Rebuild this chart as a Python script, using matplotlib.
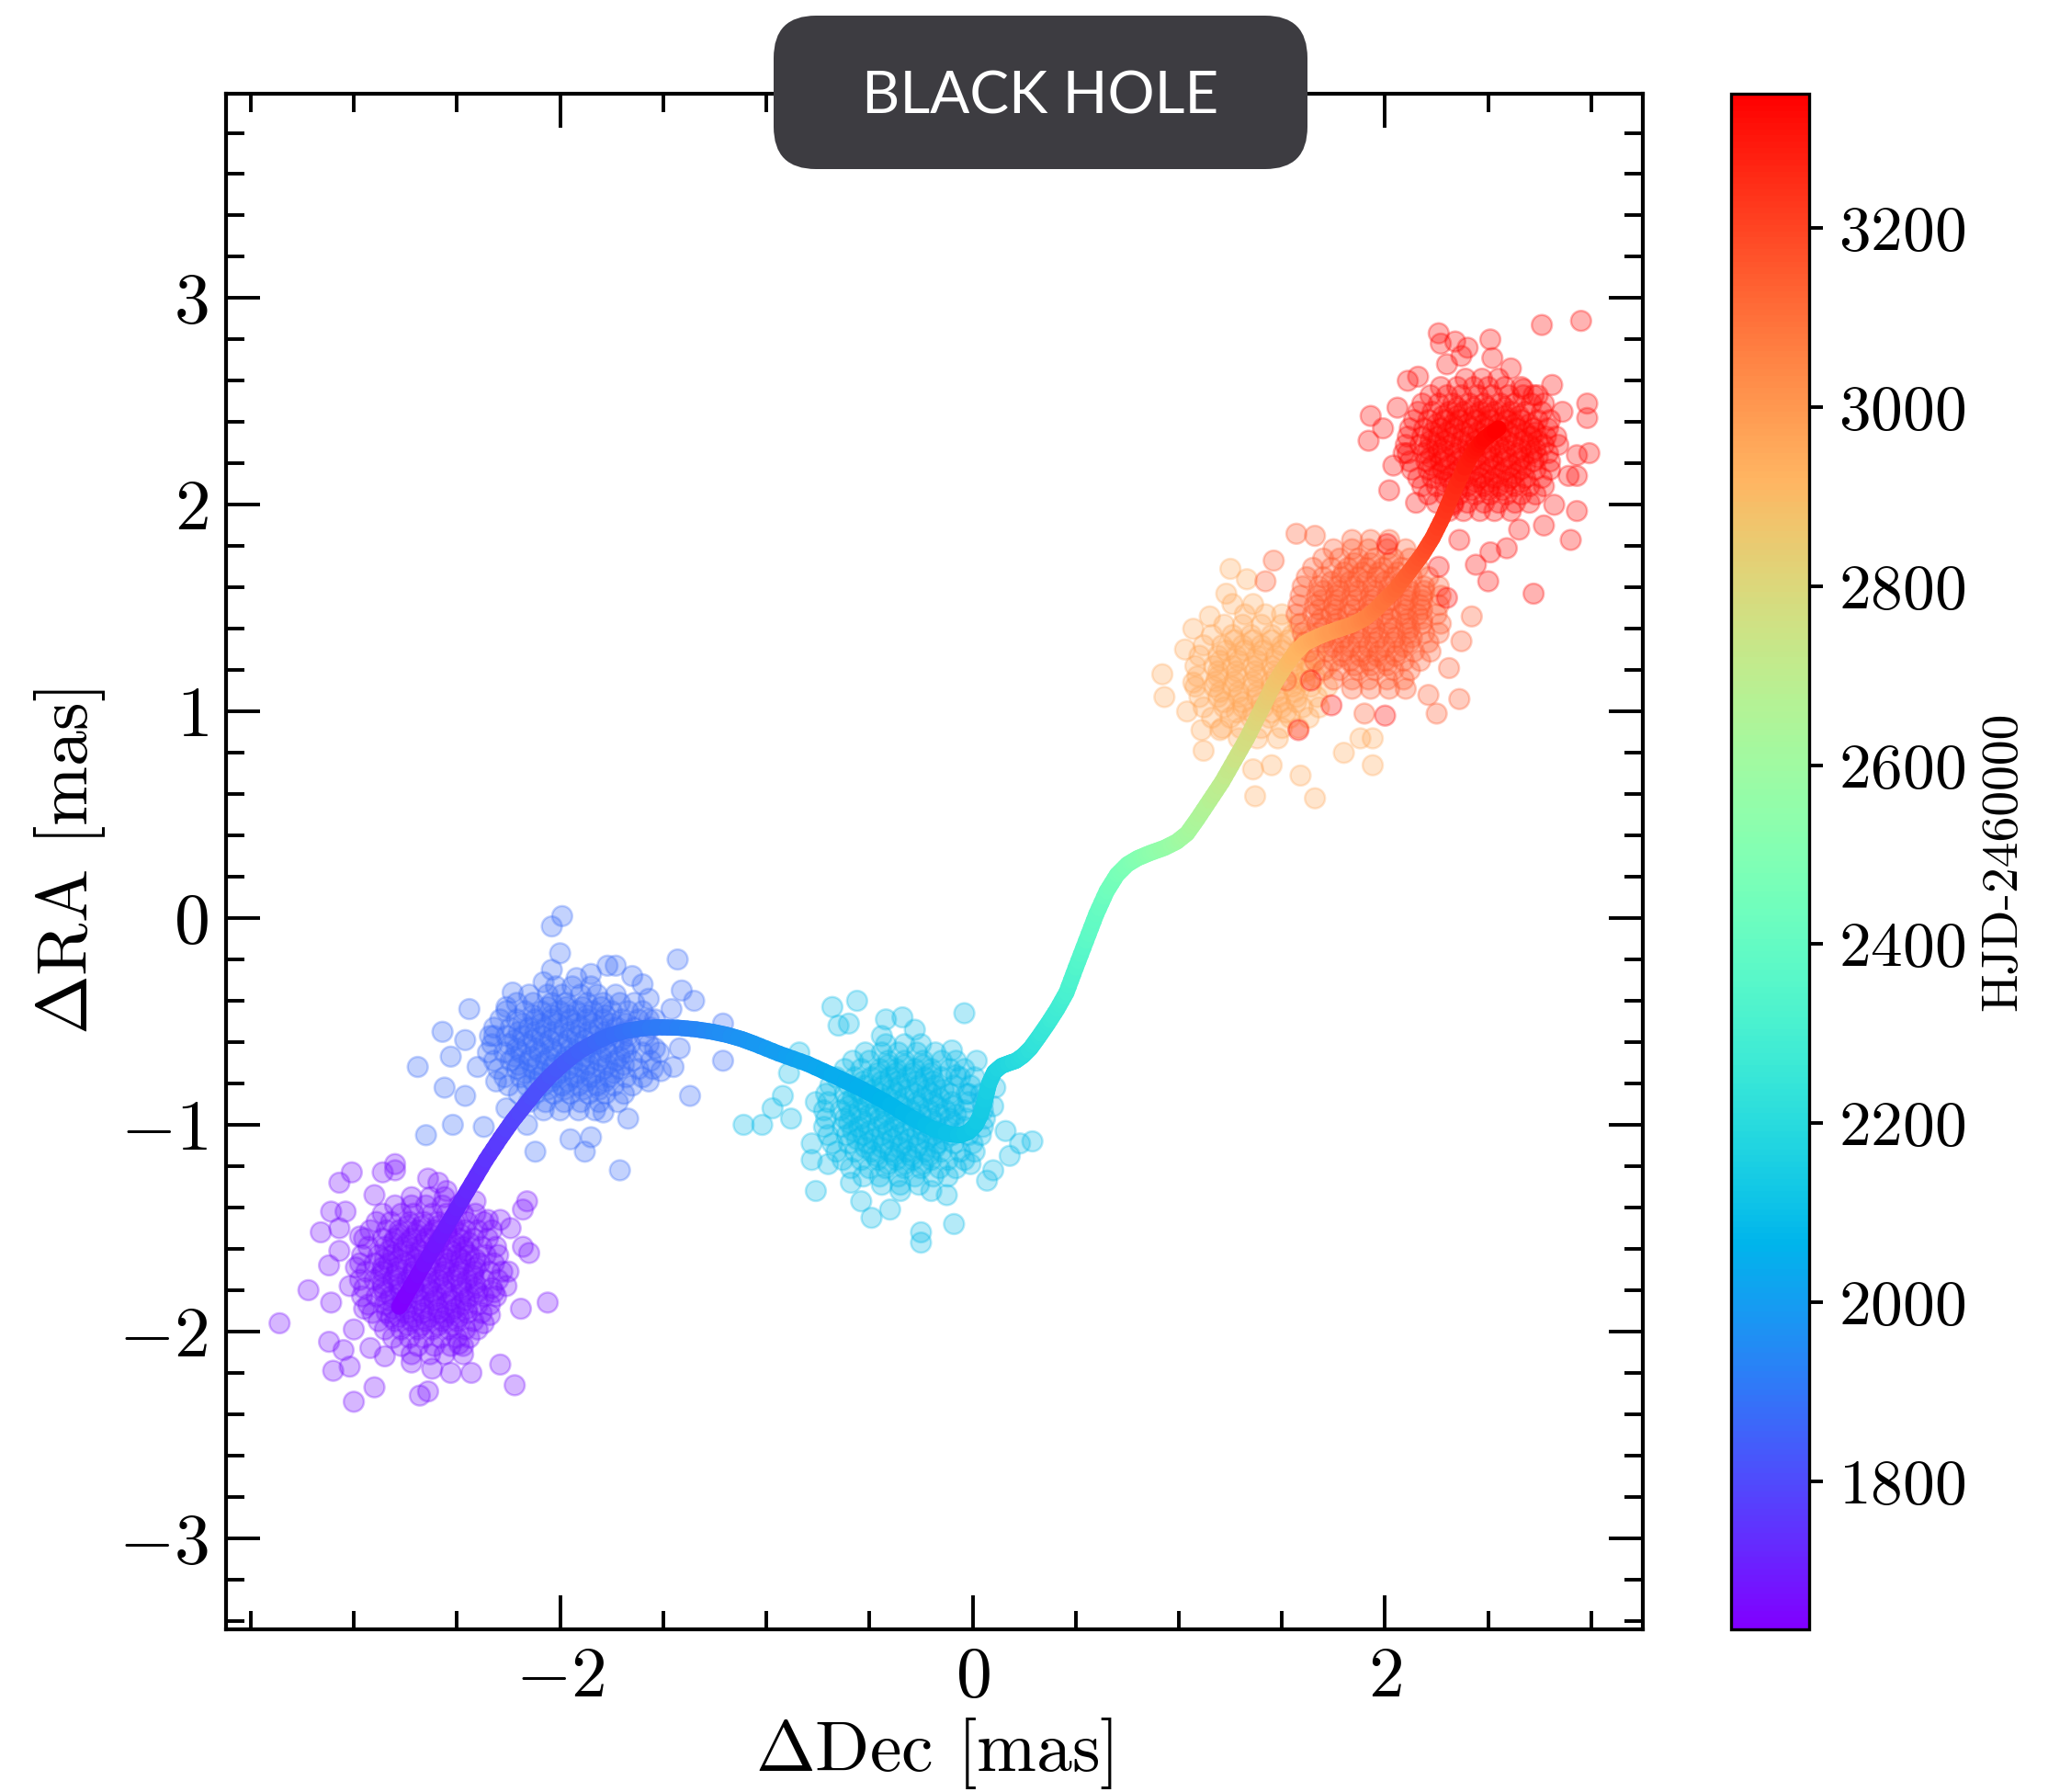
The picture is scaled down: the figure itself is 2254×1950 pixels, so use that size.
import numpy as np
import matplotlib
matplotlib.use("Agg")
import matplotlib.pyplot as plt
from matplotlib.collections import LineCollection
from matplotlib.patches import FancyBboxPatch
from matplotlib.ticker import MultipleLocator, FuncFormatter
import matplotlib.colors as mcolors
import matplotlib.cm as cm

plt.rcParams.update({
    "font.family": "serif",
    "font.serif": ["cmr10"],
    "mathtext.fontset": "cm",
    "axes.formatter.use_mathtext": True,
})

# ---------------------------------------------------------------------------
# Astrometric visits: epoch (HJD-2460000) and measured offsets [mas]
# outer = sparse points (dec, ra); core = rows of (ra, [dec, ...]) in the dense part
# ---------------------------------------------------------------------------
epoch_times = [1665, 1870, 2085, 2950, 3150, 3330]

# visit 1
v1_outer = [(-3.01, -1.23), (-3.07, -1.28), (-2.86, -1.23), (-2.80, -1.19), (-2.80, -1.22), (-2.64, -1.26),
            (-2.90, -1.34), (-3.11, -1.42), (-3.04, -1.42), (-3.16, -1.52), (-3.07, -1.50), (-2.97, -1.54),
            (-3.07, -1.61), (-3.12, -1.68), (-3.22, -1.80), (-3.11, -1.86), (-3.36, -1.96), (-3.12, -2.05),
            (-3.05, -2.09), (-3.10, -2.19), (-3.02, -2.17), (-2.90, -2.27), (-3.00, -2.34), (-2.68, -2.31),
            (-2.64, -2.29), (-2.72, -2.15), (-2.62, -2.18), (-2.53, -2.20), (-2.43, -2.20), (-2.47, -2.11),
            (-2.49, -2.06), (-2.29, -2.16), (-2.22, -2.26), (-2.19, -1.89), (-2.06, -1.86), (-2.25, -1.71),
            (-2.15, -1.62), (-2.18, -1.59), (-2.24, -1.50), (-2.18, -1.41), (-2.16, -1.37), (-2.35, -1.46),
            (-2.29, -1.46), (-2.41, -1.37), (-2.55, -1.32), (-2.59, -1.28), (-2.85, -2.12), (-2.92, -2.08),
            (-3.00, -1.99), (-2.37, -1.96), (-2.34, -1.92), (-2.32, -1.81), (-2.26, -1.78), (-2.99, -1.69),
            (-2.95, -1.89), (-3.02, -1.78), (-2.82, -1.93)]
v1_core = [(-1.35, [-2.72, -2.63, -2.56]),
           (-1.39, [-2.80, -2.72, -2.65, -2.57, -2.49]),
           (-1.43, [-2.86, -2.77, -2.71, -2.62, -2.55, -2.47, -2.41]),
           (-1.47, [-2.89, -2.82, -2.73, -2.66, -2.59, -2.51, -2.45, -2.37]),
           (-1.51, [-2.92, -2.84, -2.78, -2.69, -2.61, -2.55, -2.46, -2.40, -2.33]),
           (-1.55, [-2.95, -2.86, -2.80, -2.72, -2.65, -2.58, -2.49, -2.42, -2.35]),
           (-1.59, [-2.93, -2.85, -2.76, -2.70, -2.61, -2.53, -2.47, -2.38, -2.31]),
           (-1.63, [-2.96, -2.88, -2.81, -2.73, -2.66, -2.57, -2.50, -2.44, -2.36, -2.30]),
           (-1.67, [-2.97, -2.90, -2.83, -2.75, -2.68, -2.60, -2.54, -2.46, -2.39, -2.32]),
           (-1.71, [-2.94, -2.86, -2.79, -2.71, -2.63, -2.56, -2.49, -2.42, -2.34, -2.28]),
           (-1.75, [-2.97, -2.90, -2.81, -2.74, -2.67, -2.59, -2.52, -2.45, -2.37, -2.30]),
           (-1.79, [-2.95, -2.86, -2.78, -2.71, -2.64, -2.57, -2.48, -2.41, -2.33]),
           (-1.83, [-2.96, -2.89, -2.82, -2.74, -2.66, -2.60, -2.52, -2.44, -2.37, -2.31]),
           (-1.87, [-2.93, -2.85, -2.77, -2.70, -2.63, -2.55, -2.48, -2.40, -2.34]),
           (-1.91, [-2.91, -2.84, -2.75, -2.67, -2.59, -2.53, -2.45, -2.38]),
           (-1.95, [-2.88, -2.80, -2.72, -2.65, -2.57, -2.50, -2.42]),
           (-1.99, [-2.85, -2.77, -2.69, -2.62, -2.54, -2.46, -2.40]),
           (-2.03, [-2.81, -2.73, -2.66, -2.58, -2.50, -2.44]),
           (-2.07, [-2.77, -2.69, -2.61, -2.53, -2.47]),
           (-2.11, [-2.72, -2.63, -2.56]),
           (-1.49, [-2.74, -2.67, -2.59, -2.52]),
           (-1.53, [-2.78, -2.70, -2.63, -2.55, -2.48]),
           (-1.57, [-2.81, -2.74, -2.66, -2.59, -2.51, -2.44]),
           (-1.61, [-2.83, -2.76, -2.68, -2.61, -2.53, -2.46]),
           (-1.65, [-2.85, -2.78, -2.70, -2.63, -2.55, -2.48, -2.41]),
           (-1.69, [-2.86, -2.79, -2.71, -2.64, -2.56, -2.49, -2.41]),
           (-1.73, [-2.87, -2.80, -2.72, -2.65, -2.57, -2.50, -2.42]),
           (-1.77, [-2.86, -2.78, -2.71, -2.63, -2.56, -2.48, -2.41]),
           (-1.81, [-2.85, -2.77, -2.70, -2.62, -2.55, -2.47, -2.40]),
           (-1.85, [-2.83, -2.76, -2.68, -2.61, -2.53, -2.46]),
           (-1.89, [-2.81, -2.74, -2.66, -2.59, -2.51, -2.45]),
           (-1.93, [-2.78, -2.71, -2.63, -2.56, -2.49]),
           (-1.97, [-2.74, -2.67, -2.59, -2.52])]

# visit 2
v2_outer = [(-1.99, 0.01), (-2.04, -0.04), (-2.00, -0.17), (-2.04, -0.25), (-1.43, -0.20), (-1.41, -0.35),
            (-1.35, -0.40), (-1.46, -0.44), (-2.44, -0.44), (-2.57, -0.55), (-2.46, -0.59), (-2.53, -0.67),
            (-2.69, -0.72), (-2.56, -0.82), (-2.46, -0.86), (-2.52, -1.00), (-2.65, -1.05), (-2.37, -1.01),
            (-2.12, -1.13), (-1.88, -1.13), (-1.85, -1.06), (-1.67, -0.97), (-1.37, -0.86), (-1.21, -0.69),
            (-1.45, -0.72), (-1.42, -0.63), (-1.60, -0.32), (-1.65, -0.28), (-1.73, -0.23), (-1.77, -0.23),
            (-2.08, -0.31), (-2.23, -0.36), (-2.26, -0.43), (-2.32, -0.57), (-2.40, -0.72), (-2.31, -0.79),
            (-2.26, -0.92), (-2.16, -1.00), (-1.95, -1.07), (-1.79, -0.94), (-1.57, -0.79), (-1.51, -0.74),
            (-1.54, -0.63), (-1.54, -0.49), (-1.57, -0.39), (-1.92, -0.29), (-1.85, -0.27), (-1.21, -0.51),
            (-1.71, -1.22)]
v2_core = [(-0.33, [-2.02, -1.94, -1.85]),
           (-0.37, [-2.15, -2.06, -1.99, -1.90, -1.82, -1.73]),
           (-0.41, [-2.21, -2.13, -2.04, -1.97, -1.87, -1.79, -1.71, -1.64]),
           (-0.45, [-2.26, -2.17, -2.09, -2.00, -1.92, -1.84, -1.75, -1.67, -1.60]),
           (-0.49, [-2.29, -2.21, -2.12, -2.04, -1.95, -1.87, -1.79, -1.70, -1.62, -1.57]),
           (-0.53, [-2.32, -2.24, -2.15, -2.07, -1.98, -1.90, -1.81, -1.73, -1.64, -1.56]),
           (-0.57, [-2.34, -2.26, -2.18, -2.09, -2.01, -1.92, -1.84, -1.76, -1.67, -1.59]),
           (-0.61, [-2.33, -2.25, -2.16, -2.08, -1.99, -1.91, -1.82, -1.74, -1.66, -1.57]),
           (-0.65, [-2.35, -2.27, -2.19, -2.10, -2.02, -1.93, -1.85, -1.77, -1.68, -1.60, -1.52]),
           (-0.69, [-2.32, -2.24, -2.15, -2.07, -1.98, -1.90, -1.81, -1.73, -1.65, -1.56]),
           (-0.73, [-2.30, -2.21, -2.13, -2.04, -1.96, -1.88, -1.79, -1.71, -1.62, -1.55]),
           (-0.77, [-2.27, -2.19, -2.10, -2.02, -1.93, -1.85, -1.76, -1.68, -1.60]),
           (-0.81, [-2.25, -2.16, -2.08, -1.99, -1.91, -1.82, -1.74, -1.65]),
           (-0.85, [-2.20, -2.12, -2.03, -1.95, -1.86, -1.78, -1.69]),
           (-0.89, [-2.15, -2.07, -1.98, -1.90, -1.81, -1.72]),
           (-0.93, [-2.08, -2.00, -1.91, -1.83]),
           (-0.43, [-2.06, -1.97, -1.89, -1.80]),
           (-0.47, [-2.13, -2.04, -1.96, -1.87, -1.78]),
           (-0.51, [-2.18, -2.09, -2.01, -1.92, -1.84, -1.75, -1.68]),
           (-0.55, [-2.20, -2.12, -2.03, -1.95, -1.86, -1.78, -1.69]),
           (-0.59, [-2.22, -2.13, -2.05, -1.96, -1.88, -1.79, -1.70]),
           (-0.63, [-2.21, -2.12, -2.04, -1.95, -1.87, -1.78, -1.69]),
           (-0.67, [-2.22, -2.14, -2.05, -1.97, -1.88, -1.80, -1.71]),
           (-0.71, [-2.20, -2.11, -2.03, -1.94, -1.86, -1.77, -1.69]),
           (-0.75, [-2.17, -2.08, -2.00, -1.91, -1.83, -1.74]),
           (-0.79, [-2.13, -2.04, -1.96, -1.87, -1.78]),
           (-0.83, [-2.06, -1.98, -1.89, -1.81])]

# visit 3
v3_outer = [(-0.68, -0.43), (-0.56, -0.40), (-0.04, -0.46), (-0.42, -0.49), (-0.34, -0.48), (-0.28, -0.54),
            (-0.10, -0.64), (0.02, -0.69), (-0.84, -0.65), (-0.89, -0.75), (-0.92, -0.86), (-0.97, -0.92),
            (-1.11, -1.00), (-1.02, -1.00), (-0.88, -0.97), (-0.76, -0.89), (-0.78, -1.09), (-0.78, -1.17),
            (-0.76, -1.32), (-0.54, -1.37), (-0.49, -1.45), (-0.40, -1.41), (-0.25, -1.52), (-0.25, -1.57),
            (-0.09, -1.48), (0.07, -1.27), (0.10, -1.22), (0.18, -1.15), (0.16, -1.03), (0.23, -1.09),
            (0.29, -1.08), (0.10, -0.91), (0.11, -0.82), (-0.08, -0.76), (-0.02, -0.85), (-0.65, -0.52),
            (-0.60, -0.51), (-0.44, -0.57), (-0.20, -1.32), (-0.125, -1.34), (-0.59, -1.28), (-0.70, -1.19),
            (-0.35, -1.32), (-0.01, -1.19)]
v3_core = [(-0.61, [-0.42, -0.33, -0.25]),
           (-0.65, [-0.52, -0.44, -0.36, -0.27, -0.18]),
           (-0.69, [-0.58, -0.50, -0.41, -0.33, -0.24, -0.15, -0.08]),
           (-0.73, [-0.62, -0.54, -0.45, -0.37, -0.28, -0.20, -0.11, -0.04]),
           (-0.77, [-0.66, -0.57, -0.49, -0.40, -0.32, -0.23, -0.15, -0.06, 0.01]),
           (-0.81, [-0.69, -0.60, -0.52, -0.43, -0.35, -0.26, -0.18, -0.09, -0.01]),
           (-0.85, [-0.71, -0.62, -0.54, -0.45, -0.37, -0.28, -0.20, -0.11, -0.03, 0.04]),
           (-0.89, [-0.70, -0.61, -0.53, -0.44, -0.36, -0.27, -0.19, -0.10, -0.02, 0.05]),
           (-0.93, [-0.72, -0.64, -0.55, -0.47, -0.38, -0.30, -0.21, -0.13, -0.04, 0.05]),
           (-0.97, [-0.71, -0.62, -0.54, -0.45, -0.37, -0.28, -0.20, -0.11, -0.03, 0.06]),
           (-1.01, [-0.72, -0.63, -0.55, -0.46, -0.38, -0.29, -0.21, -0.12, -0.04, 0.05]),
           (-1.05, [-0.70, -0.61, -0.53, -0.44, -0.36, -0.27, -0.19, -0.10, -0.02, 0.04]),
           (-1.09, [-0.68, -0.60, -0.51, -0.43, -0.34, -0.26, -0.17, -0.09, 0.00]),
           (-1.13, [-0.66, -0.57, -0.49, -0.40, -0.32, -0.23, -0.15, -0.06, 0.01]),
           (-1.17, [-0.63, -0.54, -0.46, -0.37, -0.29, -0.20, -0.12, -0.04]),
           (-1.21, [-0.59, -0.50, -0.42, -0.33, -0.25, -0.16, -0.08]),
           (-1.25, [-0.53, -0.45, -0.36, -0.28, -0.19, -0.12]),
           (-1.29, [-0.44, -0.35, -0.26]),
           (-0.71, [-0.41, -0.33, -0.24]),
           (-0.75, [-0.46, -0.37, -0.29, -0.20]),
           (-0.79, [-0.53, -0.44, -0.36, -0.27, -0.19]),
           (-0.83, [-0.56, -0.48, -0.39, -0.31, -0.22, -0.14]),
           (-0.87, [-0.58, -0.50, -0.41, -0.33, -0.24, -0.16]),
           (-0.91, [-0.60, -0.51, -0.43, -0.34, -0.26, -0.17, -0.09]),
           (-0.95, [-0.59, -0.50, -0.42, -0.33, -0.25, -0.16, -0.08]),
           (-0.99, [-0.60, -0.52, -0.43, -0.35, -0.26, -0.18, -0.09]),
           (-1.03, [-0.58, -0.50, -0.41, -0.33, -0.24, -0.16]),
           (-1.07, [-0.56, -0.48, -0.39, -0.31, -0.22, -0.14]),
           (-1.11, [-0.52, -0.44, -0.35, -0.27, -0.18]),
           (-1.15, [-0.47, -0.38, -0.30, -0.21]),
           (-1.19, [-0.41, -0.33, -0.24])]

# visit 4
v4_outer = [(0.92, 1.18), (0.93, 1.07), (1.03, 1.30), (1.07, 1.40), (1.04, 1.00), (1.07, 1.14), (1.12, 0.81),
            (1.11, 0.91), (1.25, 1.69), (1.23, 1.57), (1.33, 1.64), (1.36, 0.72), (1.45, 0.74), (1.59, 0.69),
            (1.37, 0.59), (1.66, 0.58), (1.94, 0.74), (1.88, 0.87), (1.94, 0.87), (1.80, 0.80), (1.20, 0.91),
            (1.26, 1.52), (1.36, 1.52), (1.15, 1.46)]
v4_core = [(1.47, [1.32, 1.42, 1.50]),
           (1.42, [1.22, 1.31, 1.40, 1.50, 1.58]),
           (1.37, [1.16, 1.26, 1.35, 1.45, 1.55, 1.64]),
           (1.32, [1.12, 1.21, 1.31, 1.40, 1.50, 1.60, 1.68]),
           (1.27, [1.10, 1.19, 1.28, 1.38, 1.47, 1.57, 1.66]),
           (1.22, [1.08, 1.17, 1.26, 1.36, 1.45, 1.55, 1.64, 1.72]),
           (1.17, [1.09, 1.19, 1.28, 1.38, 1.47, 1.57, 1.66]),
           (1.12, [1.08, 1.17, 1.26, 1.36, 1.45, 1.55, 1.64, 1.72]),
           (1.07, [1.10, 1.19, 1.29, 1.38, 1.48, 1.57, 1.67]),
           (1.02, [1.12, 1.22, 1.31, 1.41, 1.50, 1.60, 1.68]),
           (0.97, [1.16, 1.25, 1.35, 1.44, 1.54, 1.63]),
           (0.92, [1.21, 1.30, 1.40, 1.50, 1.58]),
           (0.87, [1.29, 1.38, 1.48]),
           (1.345, [1.27, 1.36, 1.45, 1.53]),
           (1.295, [1.23, 1.32, 1.41, 1.50, 1.58]),
           (1.245, [1.20, 1.29, 1.38, 1.47, 1.56, 1.62]),
           (1.195, [1.19, 1.28, 1.37, 1.46, 1.55, 1.62]),
           (1.145, [1.18, 1.27, 1.36, 1.45, 1.54, 1.61]),
           (1.095, [1.20, 1.29, 1.38, 1.47, 1.56]),
           (1.045, [1.22, 1.31, 1.40, 1.49, 1.57]),
           (0.995, [1.28, 1.36, 1.45, 1.52])]

# visit 5
v5_outer = [(1.46, 1.73), (1.42, 1.63), (1.57, 1.86), (1.66, 1.85), (2.37, 1.34), (2.42, 1.46), (2.31, 1.21),
            (2.36, 1.06), (2.25, 0.99), (2.21, 1.08), (2.10, 1.11), (1.90, 0.99), (1.52, 1.15)]
v5_core = [(1.83, [1.84, 1.93, 2.02]),
           (1.785, [1.75, 1.84, 1.92, 2.01, 2.10]),
           (1.74, [1.70, 1.78, 1.87, 1.95, 2.04, 2.12]),
           (1.695, [1.65, 1.74, 1.82, 1.91, 1.99, 2.08, 2.16]),
           (1.65, [1.62, 1.70, 1.79, 1.87, 1.96, 2.04, 2.13, 2.21]),
           (1.605, [1.60, 1.68, 1.77, 1.85, 1.94, 2.02, 2.11, 2.19, 2.26]),
           (1.56, [1.59, 1.67, 1.76, 1.84, 1.93, 2.01, 2.10, 2.18, 2.27]),
           (1.515, [1.58, 1.66, 1.75, 1.83, 1.92, 2.00, 2.09, 2.17, 2.26]),
           (1.47, [1.57, 1.65, 1.74, 1.82, 1.91, 1.99, 2.08, 2.16, 2.25]),
           (1.425, [1.59, 1.67, 1.76, 1.84, 1.93, 2.01, 2.10, 2.18, 2.27]),
           (1.38, [1.60, 1.68, 1.77, 1.85, 1.94, 2.02, 2.11, 2.19, 2.26]),
           (1.335, [1.61, 1.70, 1.78, 1.87, 1.95, 2.04, 2.12, 2.21]),
           (1.29, [1.63, 1.72, 1.80, 1.89, 1.97, 2.06, 2.14, 2.22]),
           (1.245, [1.66, 1.75, 1.83, 1.92, 2.00, 2.09, 2.17]),
           (1.20, [1.70, 1.78, 1.87, 1.95, 2.04, 2.12]),
           (1.155, [1.75, 1.84, 1.92, 2.01, 2.09]),
           (1.11, [1.84, 1.93, 2.02]),
           (1.718, [1.85, 1.93, 2.02]),
           (1.673, [1.80, 1.89, 1.97, 2.06]),
           (1.628, [1.74, 1.83, 1.91, 2.00, 2.08]),
           (1.583, [1.70, 1.78, 1.87, 1.95, 2.04, 2.12, 2.19]),
           (1.538, [1.69, 1.77, 1.86, 1.94, 2.03, 2.11, 2.18]),
           (1.493, [1.68, 1.76, 1.85, 1.93, 2.02, 2.10, 2.18]),
           (1.448, [1.69, 1.77, 1.86, 1.94, 2.03, 2.11, 2.18]),
           (1.403, [1.70, 1.78, 1.87, 1.95, 2.04, 2.12]),
           (1.358, [1.71, 1.80, 1.88, 1.97, 2.05, 2.13]),
           (1.313, [1.75, 1.83, 1.92, 2.00, 2.09]),
           (1.268, [1.79, 1.88, 1.96, 2.05]),
           (1.223, [1.85, 1.93, 2.01])]

# visit 6
v6_outer = [(2.76, 2.87), (2.95, 2.89), (2.26, 2.83), (2.27, 2.78), (2.34, 2.79), (2.40, 2.76), (2.51, 2.80),
            (2.52, 2.71), (2.61, 2.66), (2.81, 2.58), (2.11, 2.60), (2.16, 2.62), (1.93, 2.43), (2.06, 2.47),
            (1.99, 2.37), (1.92, 2.31), (2.04, 2.19), (2.09, 2.25), (2.98, 2.49), (2.98, 2.42), (2.99, 2.25),
            (2.93, 2.24), (2.93, 2.14), (2.89, 2.14), (2.93, 1.97), (2.82, 2.00), (2.90, 1.83), (2.77, 1.90),
            (2.65, 1.88), (2.59, 1.79), (2.51, 1.77), (2.50, 1.63), (2.72, 1.57), (2.44, 1.71), (2.36, 1.83),
            (2.33, 2.00), (2.15, 2.01), (2.02, 2.07), (2.30, 2.68), (2.37, 2.72), (2.74, 2.53), (2.86, 2.45),
            (2.67, 2.56), (2.01, 1.81), (2.26, 1.70), (2.30, 1.55), (1.74, 1.03), (1.58, 0.91), (2.00, 0.98),
            (1.64, 1.15)]
v6_core = [(2.61, [2.39, 2.47, 2.55]),
           (2.57, [2.27, 2.35, 2.43, 2.50, 2.58, 2.66]),
           (2.53, [2.22, 2.30, 2.37, 2.45, 2.52, 2.60, 2.67, 2.72]),
           (2.49, [2.18, 2.26, 2.33, 2.41, 2.48, 2.56, 2.63, 2.71, 2.77]),
           (2.45, [2.16, 2.23, 2.31, 2.38, 2.46, 2.53, 2.61, 2.68, 2.76]),
           (2.41, [2.14, 2.21, 2.29, 2.36, 2.44, 2.51, 2.59, 2.66, 2.74, 2.80]),
           (2.37, [2.12, 2.19, 2.27, 2.34, 2.42, 2.49, 2.57, 2.64, 2.72, 2.79]),
           (2.33, [2.11, 2.18, 2.26, 2.33, 2.41, 2.48, 2.56, 2.63, 2.71, 2.78, 2.83]),
           (2.29, [2.10, 2.17, 2.25, 2.32, 2.40, 2.47, 2.55, 2.62, 2.70, 2.77, 2.84]),
           (2.25, [2.11, 2.19, 2.26, 2.34, 2.41, 2.49, 2.56, 2.64, 2.71, 2.79]),
           (2.21, [2.12, 2.20, 2.27, 2.35, 2.42, 2.50, 2.57, 2.65, 2.72, 2.80]),
           (2.17, [2.13, 2.21, 2.28, 2.36, 2.43, 2.51, 2.58, 2.66, 2.73, 2.80]),
           (2.13, [2.16, 2.23, 2.31, 2.38, 2.46, 2.53, 2.61, 2.68, 2.76]),
           (2.09, [2.18, 2.25, 2.33, 2.40, 2.48, 2.55, 2.63, 2.70, 2.77]),
           (2.05, [2.21, 2.29, 2.36, 2.44, 2.51, 2.59, 2.66, 2.73]),
           (2.01, [2.25, 2.33, 2.40, 2.48, 2.55, 2.63, 2.70]),
           (1.97, [2.31, 2.38, 2.46, 2.53, 2.61]),
           (2.47, [2.35, 2.43, 2.50, 2.58]),
           (2.43, [2.28, 2.35, 2.43, 2.50, 2.58, 2.65]),
           (2.39, [2.25, 2.33, 2.40, 2.48, 2.55, 2.63, 2.70]),
           (2.35, [2.23, 2.30, 2.38, 2.45, 2.53, 2.60, 2.68, 2.73]),
           (2.31, [2.22, 2.29, 2.37, 2.44, 2.52, 2.59, 2.67, 2.74]),
           (2.27, [2.21, 2.28, 2.36, 2.43, 2.51, 2.58, 2.66, 2.73]),
           (2.23, [2.22, 2.29, 2.37, 2.44, 2.52, 2.59, 2.67, 2.74]),
           (2.19, [2.23, 2.31, 2.38, 2.46, 2.53, 2.61, 2.68]),
           (2.15, [2.26, 2.33, 2.41, 2.48, 2.56, 2.63]),
           (2.11, [2.29, 2.36, 2.44, 2.51, 2.59, 2.66]),
           (2.07, [2.35, 2.42, 2.50, 2.57])]

visits = [(v1_outer, v1_core), (v2_outer, v2_core), (v3_outer, v3_core),
          (v4_outer, v4_core), (v5_outer, v5_core), (v6_outer, v6_core)]

# ---------------------------------------------------------------------------
# Best-fit sky track of the luminous companion
# ---------------------------------------------------------------------------
track_dec = [-2.78, -2.66, -2.55, -2.45, -2.36, -2.29, -2.23, -2.17, -2.11, -2.05, -1.98, -1.91, -1.83,
             -1.76, -1.68, -1.60, -1.53, -1.43, -1.34, -1.26, -1.19, -1.12, -1.06, -0.94, -0.80, -0.645,
             -0.53, -0.42, -0.34, -0.27, -0.19, -0.11, -0.06, -0.02, 0.015, 0.04, 0.06, 0.08, 0.105, 0.14,
             0.18, 0.21, 0.245, 0.28, 0.32, 0.365, 0.41, 0.455, 0.50, 0.55, 0.60, 0.65, 0.70, 0.75, 0.80,
             0.86, 0.93, 0.99, 1.04, 1.09, 1.15, 1.21, 1.27, 1.33, 1.38, 1.42, 1.46, 1.51, 1.56, 1.61, 1.67,
             1.72, 1.78, 1.84, 1.90, 1.95, 2.00, 2.05, 2.12, 2.18, 2.23, 2.28, 2.33, 2.385, 2.43, 2.48, 2.55]
track_ra = [-1.88, -1.676, -1.49, -1.32, -1.17, -1.065, -0.98, -0.905, -0.83, -0.765, -0.70, -0.645, -0.60,
            -0.568, -0.545, -0.533, -0.528, -0.530, -0.538, -0.55, -0.565, -0.585, -0.607, -0.655, -0.705,
            -0.775, -0.83, -0.89, -0.94, -0.98, -1.02, -1.045, -1.05, -1.035, -1.0, -0.95, -0.88, -0.80,
            -0.745, -0.715, -0.70, -0.69, -0.665, -0.63, -0.575, -0.51, -0.44, -0.36, -0.24, -0.11, 0.02,
            0.13, 0.21, 0.26, 0.29, 0.315, 0.34, 0.37, 0.41, 0.48, 0.57, 0.66, 0.765, 0.87, 0.97, 1.05, 1.13,
            1.21, 1.28, 1.33, 1.36, 1.38, 1.40, 1.42, 1.45, 1.49, 1.54, 1.59, 1.68, 1.76, 1.84, 1.94, 2.06,
            2.18, 2.26, 2.32, 2.37]
track_time = [1635, 1665, 1695, 1722, 1748, 1766, 1782, 1797, 1811, 1824, 1837, 1849, 1862, 1874, 1886,
              1898, 1909, 1924, 1938, 1950, 1961, 1972, 1982, 2000, 2020, 2040, 2055, 2068, 2078, 2087, 2096,
              2106, 2113, 2120, 2128, 2136, 2145, 2155, 2165, 2175, 2186, 2195, 2207, 2220, 2238, 2258, 2280,
              2305, 2335, 2368, 2400, 2430, 2458, 2483, 2505, 2530, 2558, 2585, 2610, 2638, 2670, 2702, 2738,
              2772, 2805, 2832, 2858, 2886, 2912, 2936, 2960, 2980, 3002, 3025, 3048, 3070, 3092, 3115, 3145,
              3172, 3196, 3222, 3250, 3280, 3305, 3328, 3350]

cbar_ticks = [1800, 2000, 2200, 2400, 2600, 2800, 3000, 3200]
x_limits = (-3.62, 3.25)
y_limits = (-3.44, 3.99)

# ---------------------------------------------------------------------------
fig = plt.figure(figsize=(11.27, 9.75), dpi=200)
ax = fig.add_axes([0.1091, 0.0909, 0.6842, 0.8569])
cax = fig.add_axes([0.8359, 0.0909, 0.0377, 0.8569])

cmap = plt.get_cmap("rainbow")
norm = mcolors.Normalize(vmin=min(track_time), vmax=max(track_time))

for t, (outer, core) in zip(epoch_times, visits):
    xs = [p[0] for p in outer]
    ys = [p[1] for p in outer]
    for yrow, xrow in core:
        xs.extend(xrow)
        ys.extend([yrow] * len(xrow))
    ax.scatter(xs, ys, c=[t] * len(xs), cmap=cmap, norm=norm, s=62, alpha=0.3,
               edgecolors="face", linewidths=0.9, zorder=2)

# colour-coded track; each straight piece is split so the colour varies smoothly
segs, seg_t = [], []
for i in range(len(track_dec) - 1):
    x0, x1 = track_dec[i], track_dec[i + 1]
    y0, y1 = track_ra[i], track_ra[i + 1]
    t0, t1 = track_time[i], track_time[i + 1]
    n = 4
    for k in range(n):
        f0, f1 = k / n, (k + 1) / n
        segs.append([(x0 + (x1 - x0) * f0, y0 + (y1 - y0) * f0),
                     (x0 + (x1 - x0) * f1, y0 + (y1 - y0) * f1)])
        seg_t.append(t0 + (t1 - t0) * (f0 + f1) / 2)
lc = LineCollection(segs, cmap=cmap, norm=norm, linewidths=6.3, capstyle="round",
                    joinstyle="round", zorder=3)
lc.set_array(np.asarray(seg_t))
ax.add_collection(lc)

ax.set_xlim(*x_limits)
ax.set_ylim(*y_limits)

math_fmt = FuncFormatter(lambda v, p: r"$%d$" % int(round(v)))
ax.xaxis.set_major_locator(MultipleLocator(2))
ax.xaxis.set_minor_locator(MultipleLocator(0.5))
ax.yaxis.set_major_locator(MultipleLocator(1))
ax.yaxis.set_minor_locator(MultipleLocator(0.2))
ax.xaxis.set_major_formatter(math_fmt)
ax.yaxis.set_major_formatter(math_fmt)
ax.tick_params(which="both", direction="in", top=True, right=True, width=1.4, color="black")
ax.tick_params(which="major", length=13.3, labelsize=28, pad=7)
ax.tick_params(which="minor", length=7.1)
for sp in ax.spines.values():
    sp.set_linewidth(1.5)

ax.set_xlabel(r"$\Delta$Dec [mas]", fontsize=28, labelpad=2)
ax.set_ylabel(r"$\Delta$RA [mas]", fontsize=28, labelpad=4)

sm = cm.ScalarMappable(norm=norm, cmap=cmap)
cb = fig.colorbar(sm, cax=cax)
cb.set_ticks(cbar_ticks)
cb.ax.yaxis.set_major_formatter(math_fmt)
cb.ax.minorticks_off()
cb.ax.tick_params(direction="out", length=5.4, width=1.4, labelsize=25, pad=6)
cb.outline.set_linewidth(1.2)
cb.set_label("HJD-2460000", fontsize=20, labelpad=6)

# title badge
box = FancyBboxPatch((842 / 200, (1950 - 184) / 200), 581 / 200, 167 / 200,
                     boxstyle="round,pad=0,rounding_size=0.23", transform=fig.dpi_scale_trans,
                     facecolor="#3d3c41", edgecolor="none", zorder=10)
fig.add_artist(box)
fig.text((842 + 581 / 2) / 200, (1950 - 106) / 200, "BLACK HOLE", transform=fig.dpi_scale_trans,
         ha="center", va="center", color="white", fontsize=23, family="Lato", zorder=11)

fig.savefig("out.png", dpi=200)
